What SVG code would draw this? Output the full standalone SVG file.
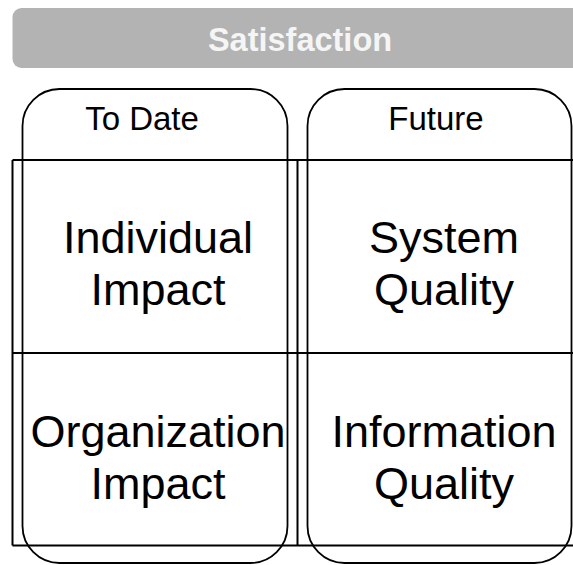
<svg xmlns="http://www.w3.org/2000/svg" width="573" height="565" viewBox="0 0 573 565">
<style>
.col{fill:none;stroke:#000;stroke-width:1.8}
.grid{fill:none;stroke:#000;stroke-width:2}
.t{font-family:"Liberation Sans",Arial,sans-serif;fill:#000;text-anchor:middle}
.h{font-size:33px}
.b{font-size:45px}
</style>
<rect width="573" height="565" fill="#fff"/>
<g id="satisfaction">
<rect x="12.5" y="8" width="580" height="60" rx="9" ry="9" fill="#b3b3b3"/>
<text class="t" x="300" y="51" style="font-size:32.5px;font-weight:bold;fill:#f5f5f5">Satisfaction</text>
</g>
<g id="to-date">
<rect class="col" x="22.5" y="89" width="265" height="474" rx="37" ry="37"/>
<text class="t h" x="142" y="130">To Date</text>
</g>
<g id="future">
<rect class="col" x="307.5" y="89" width="264" height="474" rx="37" ry="37"/>
<text class="t h" x="436" y="130">Future</text>
</g>
<g id="connectors">
<path class="grid" d="M12.5 160H575M12.5 353H575M12.5 545.5H575M12.5 160V545.5M297.5 160V545.5"/>
</g>
<g id="individual-impact">
<text class="t b" x="158" y="253">Individual</text>
<text class="t b" x="158" y="305">Impact</text>
</g>
<g id="system-quality">
<text class="t b" x="444" y="253">System</text>
<text class="t b" x="444" y="305">Quality</text>
</g>
<g id="organization-impact">
<text class="t b" x="158" y="447">Organization</text>
<text class="t b" x="158" y="499">Impact</text>
</g>
<g id="information-quality">
<text class="t b" x="444" y="447">Information</text>
<text class="t b" x="444" y="499">Quality</text>
</g>
</svg>
